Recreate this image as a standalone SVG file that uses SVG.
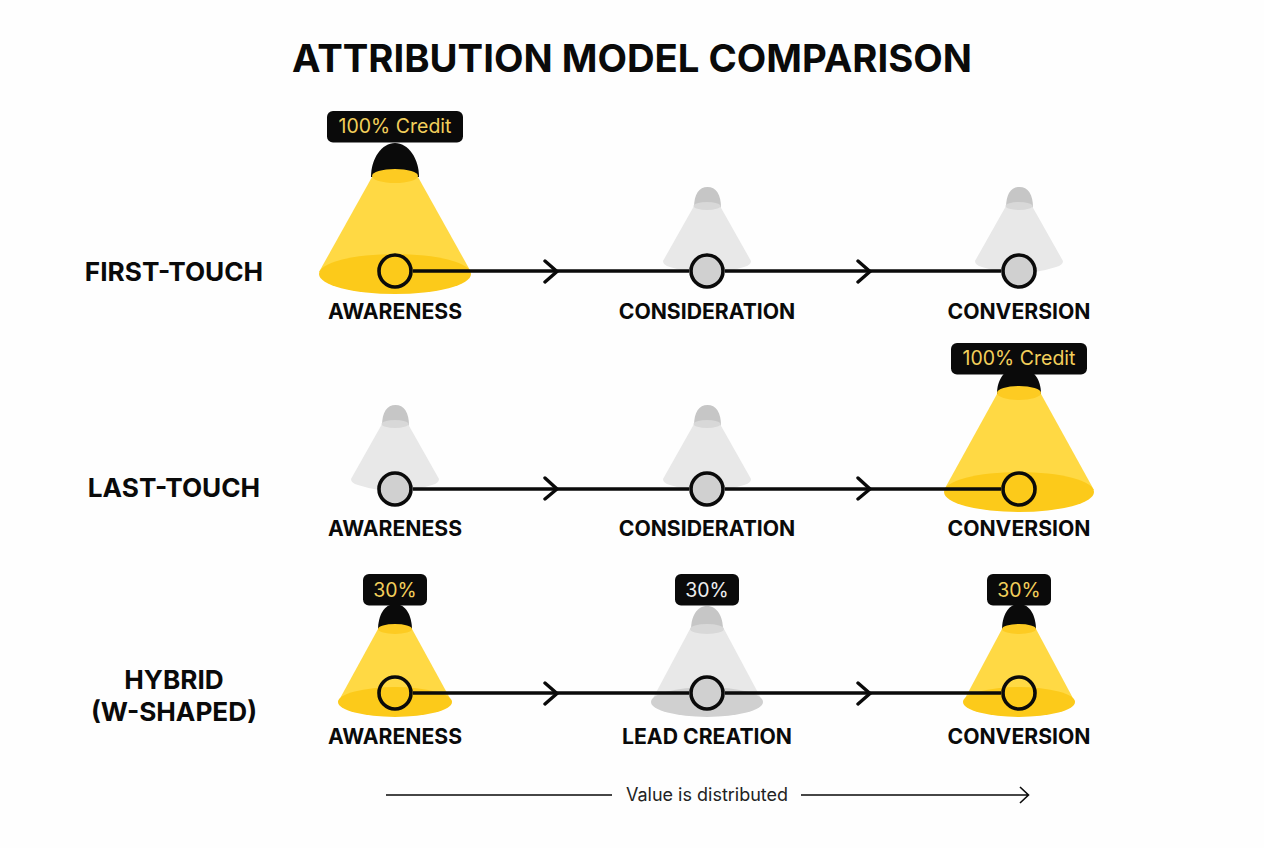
<svg xmlns="http://www.w3.org/2000/svg" width="1264" height="848" viewBox="0 0 1264 848">
<style>
text{font-family:Inter,"Liberation Sans",sans-serif;text-anchor:middle}
.title{font-size:38.3px;font-weight:700;fill:#0a0a0a}
.row{font-size:26.2px;font-weight:700;fill:#0a0a0a}
.stage{font-size:21.2px;font-weight:700;fill:#0a0a0a}
.tagt{font-size:19.5px;font-weight:400;fill:#f2cf5b}
.tagw{font-size:19.5px;font-weight:400;fill:#eeeeee}
.tag{fill:#0a0a0a}
.dome{fill:#0a0a0a}
.coneY{fill:#ffd944}
.baseY{fill:#fcca1a}
.topY{fill:#fdcb22}
.domeG{fill:#c6c6c6}
.coneG{fill:#e8e8e8}
.topG{fill:#d8d8d8}
.baseG{fill:#d0d0d0}
.dot{stroke:#0a0a0a;stroke-width:3.6}
.dotG{fill:#d0d0d0}
.dotY{fill:none}
.line{stroke:#0a0a0a;stroke-width:3.4;fill:none}
.chev{stroke:#0a0a0a;stroke-width:3.4;fill:none;stroke-linecap:round;stroke-linejoin:miter}
.axis{stroke:#0a0a0a;stroke-width:1.6;fill:none}
.axt{font-size:18px;fill:#222222}
</style>
<rect width="1264" height="848" fill="#fefefe"/>
<text class="title" x="632" y="72">ATTRIBUTION MODEL COMPARISON</text>

<g id="label-first-touch"><text class="row" x="174" y="281">FIRST-TOUCH</text></g>
<g id="label-last-touch"><text class="row" x="174" y="497">LAST-TOUCH</text></g>
<g id="label-hybrid"><text class="row" x="174" y="689">HYBRID</text><text class="row" x="174" y="721">(W-SHAPED)</text></g>

<!-- lamps (behind connectors) -->
<g id="lamp-first-awareness">
<path class="dome" d="M371 177C371 158 382 143 395 143C408 143 419 158 419 177Z"/>
<path class="coneY" d="M372 177L319 272L471 272L418 177Z"/>
<ellipse class="topY" cx="395" cy="176" rx="23" ry="7"/>
<ellipse class="baseY" cx="395" cy="274" rx="76" ry="20"/>
</g>
<g id="lamp-first-consideration">
<path class="domeG" d="M694 208C694 194 699 187 707.500 187C716 187 721 194 721 208Z"/>
<path class="coneG" d="M694 206L663 261Q663 265 670 267Q707 279 744 267Q751 265 751 261L720 206Z"/>
<ellipse class="topG" cx="707" cy="206" rx="13.500" ry="4"/>
</g>
<g id="lamp-first-conversion">
<path class="domeG" d="M1006 208C1006 194 1011 187 1019.500 187C1028 187 1033 194 1033 208Z"/>
<path class="coneG" d="M1006 206L975 261Q975 265 982 267Q1019 279 1056 267Q1063 265 1063 261L1032 206Z"/>
<ellipse class="topG" cx="1019" cy="206" rx="13.500" ry="4"/>
</g>
<g id="lamp-last-awareness">
<path class="domeG" d="M382 426C382 412 387 405 395.500 405C404 405 409 412 409 426Z"/>
<path class="coneG" d="M382 424L351 479Q351 483 358 485Q395 497 432 485Q439 483 439 479L408 424Z"/>
<ellipse class="topG" cx="395" cy="424" rx="13.500" ry="4"/>
</g>
<g id="lamp-last-consideration">
<path class="domeG" d="M694 426C694 412 699 405 707.500 405C716 405 721 412 721 426Z"/>
<path class="coneG" d="M694 424L663 479Q663 483 670 485Q707 497 744 485Q751 483 751 479L720 424Z"/>
<ellipse class="topG" cx="707" cy="424" rx="13.500" ry="4"/>
</g>
<g id="lamp-last-conversion">
<path class="dome" d="M997 394C997 380 1004 368 1019 368C1034 368 1041 380 1041 394Z"/>
<path class="coneY" d="M997 394L944 490L1094 490L1041 394Z"/>
<ellipse class="topY" cx="1019" cy="393" rx="22" ry="7"/>
<ellipse class="baseY" cx="1019" cy="492" rx="75" ry="20"/>
</g>
<g id="lamp-hybrid-awareness">
<path class="dome" d="M378 630C378 616 384 604 395 604C406 604 412 616 412 630Z"/>
<path class="coneY" d="M378 629L338 702L452 702L412 629Z"/>
<ellipse class="topY" cx="395" cy="629" rx="17" ry="5"/>
<ellipse class="baseY" cx="395" cy="702" rx="57" ry="15"/>
</g>
<g id="lamp-hybrid-lead">
<path class="domeG" d="M691 630C691 616 697 606 707 606C717 606 723 616 723 630Z"/>
<path class="coneG" d="M690 629L651 702L763 702L724 629Z"/>
<ellipse class="topG" cx="707" cy="629" rx="17" ry="5"/>
<ellipse class="baseG" cx="707" cy="702" rx="56" ry="15"/>
</g>
<g id="lamp-hybrid-conversion">
<path class="dome" d="M1002 630C1002 616 1008 604 1019 604C1030 604 1036 616 1036 630Z"/>
<path class="coneY" d="M1002 629L963 702L1075 702L1036 629Z"/>
<ellipse class="topY" cx="1019" cy="629" rx="17" ry="5"/>
<ellipse class="baseY" cx="1019" cy="702" rx="56" ry="15"/>
</g>

<!-- connectors -->
<g id="connectors">
<path class="line" d="M413 271H689M725 271H1001"/>
<path class="chev" d="M545 261L557 271.500L545 282M858 261L870 271.500L858 282"/>
<path class="line" d="M413 489H689M725 489H1001"/>
<path class="chev" d="M545 478L557 489L545 499M858 478L870 489L858 499"/>
<path class="line" d="M413 693H689M725 693H1001"/>
<path class="chev" d="M545 683L557 693.500L545 704M858 683L870 693.500L858 704"/>
<path class="axis" d="M386 795H612M801 795H1028M1020 787L1028.500 795L1020 803"/>
</g>
<text class="axt" x="707" y="801">Value is distributed</text>

<!-- touch points and labels -->
<g id="node-first-awareness"><circle class="dot dotY" cx="395" cy="271" r="16"/><text class="stage" x="395" y="319">AWARENESS</text></g>
<g id="node-first-consideration"><circle class="dot dotG" cx="707" cy="271" r="16"/><text class="stage" x="707" y="319">CONSIDERATION</text></g>
<g id="node-first-conversion"><circle class="dot dotG" cx="1019" cy="271" r="16"/><text class="stage" x="1019" y="319">CONVERSION</text></g>
<g id="node-last-awareness"><circle class="dot dotG" cx="395" cy="489" r="16"/><text class="stage" x="395" y="536">AWARENESS</text></g>
<g id="node-last-consideration"><circle class="dot dotG" cx="707" cy="489" r="16"/><text class="stage" x="707" y="536">CONSIDERATION</text></g>
<g id="node-last-conversion"><circle class="dot dotY" cx="1019" cy="489" r="16"/><text class="stage" x="1019" y="536">CONVERSION</text></g>
<g id="node-hybrid-awareness"><circle class="dot dotY" cx="395" cy="693" r="16"/><text class="stage" x="395" y="744">AWARENESS</text></g>
<g id="node-hybrid-lead"><circle class="dot dotG" cx="707" cy="693" r="16"/><text class="stage" x="707" y="744">LEAD CREATION</text></g>
<g id="node-hybrid-conversion"><circle class="dot dotY" cx="1019" cy="693" r="16"/><text class="stage" x="1019" y="744">CONVERSION</text></g>

<!-- credit tags -->
<g id="tag-first"><rect class="tag" x="327" y="111" width="136" height="31.500" rx="6"/><text class="tagt" x="395" y="133">100% Credit</text></g>
<g id="tag-last"><rect class="tag" x="951" y="343" width="136" height="31.500" rx="6"/><text class="tagt" x="1019" y="365">100% Credit</text></g>
<g id="tag-hybrid-1"><rect class="tag" x="363" y="574" width="64" height="31.500" rx="6"/><text class="tagt" x="395" y="597">30%</text></g>
<g id="tag-hybrid-2"><rect class="tag" x="675" y="574" width="64" height="31.500" rx="6"/><text class="tagw" x="707" y="597">30%</text></g>
<g id="tag-hybrid-3"><rect class="tag" x="987" y="574" width="64" height="31.500" rx="6"/><text class="tagt" x="1019" y="597">30%</text></g>
</svg>
